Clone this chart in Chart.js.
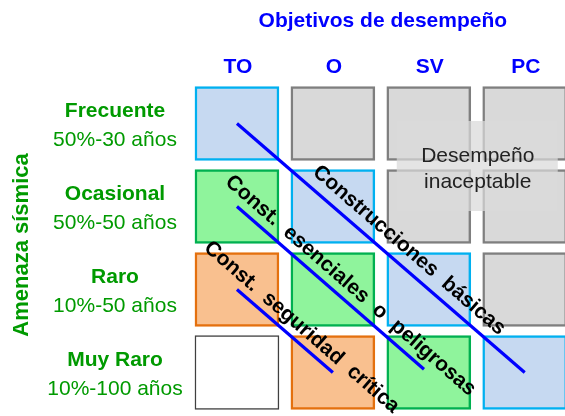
<!DOCTYPE html>
<html>
<head>
<meta charset="utf-8">
<script src="https://cdn.jsdelivr.net/npm/chart.js@4"></script>
<style>
  body { margin: 0; background: #fff; }
  #wrap { width: 565px; height: 416px; }
</style>
</head>
<body>
<div id="wrap"><canvas id="chart"></canvas></div>
<script>
// Performance objectives (columns) and seismic hazard levels (rows)
const columns = ["TO", "O", "SV", "PC"];
const rowTitles = ["Frecuente", "Ocasional", "Raro", "Muy Raro"];
const rowSubtitles = ["50%-30 años", "50%-50 años", "10%-50 años", "10%-100 años"];

// Kind of building each cell belongs to, row by row
const cellLevels = [
  ["basic", "unacceptable", "unacceptable", "unacceptable"],
  ["essential", "basic", "unacceptable", "unacceptable"],
  ["critical", "essential", "basic", "unacceptable"],
  ["none", "critical", "essential", "basic"]
];

// Diagonal lines: [column, row] of start and end
const lineNames = ["Construcciones\u00a0\u00a0básicas", "Const.\u00a0 esenciales\u00a0 o\u00a0 peligrosas", "Const.\u00a0 seguridad\u00a0 crítica"];
const lineStarts = [[0, 0], [0, 1], [0, 2]];
const lineEnds = [[3, 3], [1.95, 2.96], [1, 3]];

const unacceptableText = ["Desempeño", "inaceptable"];

const levelFill = {
  basic: "#C6D9F1", unacceptable: "#D9D9D9", essential: "#8FF49C",
  critical: "#F9C08F", none: "#FFFFFF"
};
const levelBorder = {
  basic: "#00B0F0", unacceptable: "#7F7F7F", essential: "#00B050",
  critical: "#E4700E", none: "#404040"
};

const FONT = "'Liberation Sans', Arial, sans-serif";
const GREEN = "#009A00";
const BLUE = "#0000FF";

// one floating bar per cell
const cellData = [], cellFill = [], cellBorder = [], cellBorderWidth = [];
cellLevels.forEach(function(row, r) {
  row.forEach(function(level, c) {
    cellData.push({ x: c, y: [r - 0.446, r + 0.446] });
    cellFill.push(levelFill[level]);
    cellBorder.push(levelBorder[level]);
    cellBorderWidth.push(level === "none" ? 1.5 : 2.5);
  });
});

const lineSets = lineNames.map(function(name, i) {
  return {
    type: "line",
    label: name,
    data: [{ x: lineStarts[i][0], y: lineStarts[i][1] }, { x: lineEnds[i][0], y: lineEnds[i][1] }],
    borderColor: BLUE,
    borderWidth: 3.2,
    pointRadius: 0,
    order: 0
  };
});

// where each diagonal label sits: fraction along the line, offset of baseline
const lineLabelPos = [
  { t: 0.56, off: 11 },
  { t: 0.555, off: 9 },
  { t: 0.58, off: 8 }
];

const labelsPlugin = {
  id: "matrixLabels",
  afterDatasetsDraw(chart) {
    const ctx = chart.ctx;
    const x = chart.scales.x, y = chart.scales.y;
    ctx.save();

    // translucent box over the unacceptable zone
    const bx = x.getPixelForValue(2.5), by = y.getPixelForValue(0.5) + 1;
    ctx.fillStyle = "rgba(217,217,217,0.72)";
    ctx.fillRect(bx - 80, by - 45, 161, 90);
    ctx.fillStyle = "#222";
    ctx.font = "21px " + FONT;
    ctx.textAlign = "center";
    ctx.textBaseline = "alphabetic";
    ctx.fillText(unacceptableText[0], bx + 1, by - 4);
    ctx.fillText(unacceptableText[1], bx + 1, by + 22);

    // labels along the diagonals
    ctx.fillStyle = "#000";
    ctx.font = "bold 21px " + FONT;
    lineNames.forEach(function(name, i) {
      const x0 = x.getPixelForValue(lineStarts[i][0]), y0 = y.getPixelForValue(lineStarts[i][1]);
      const x1 = x.getPixelForValue(lineEnds[i][0]), y1 = y.getPixelForValue(lineEnds[i][1]);
      const ang = Math.atan2(y1 - y0, x1 - x0);
      const p = lineLabelPos[i];
      ctx.save();
      ctx.translate(x0 + (x1 - x0) * p.t, y0 + (y1 - y0) * p.t);
      ctx.rotate(ang);
      ctx.fillText(name, 0, -p.off);
      ctx.restore();
    });

    // column headers and title
    ctx.fillStyle = BLUE;
    ctx.font = "bold 21px " + FONT;
    columns.forEach(function(col, c) {
      ctx.fillText(col, x.getPixelForValue(c) + 1, y.getPixelForValue(0) - 51);
    });
    ctx.fillText("Objetivos de desempeño", x.getPixelForValue(1.5) + 2, 27);

    // row labels
    ctx.fillStyle = GREEN;
    rowTitles.forEach(function(t, r) {
      const py = y.getPixelForValue(r);
      ctx.font = "bold 21px " + FONT;
      ctx.fillText(t, 115, py - 7);
      ctx.font = "21px " + FONT;
      ctx.fillText(rowSubtitles[r], 115, py + 22);
    });

    // vertical axis title
    ctx.save();
    ctx.translate(28, 245);
    ctx.rotate(-Math.PI / 2);
    ctx.font = "bold 22px " + FONT;
    ctx.fillText("Amenaza sísmica", 0, 0);
    ctx.restore();

    ctx.restore();
  }
};

new Chart(document.getElementById("chart"), {
  type: "bar",
  data: {
    datasets: [{
      type: "bar",
      label: "cells",
      data: cellData,
      backgroundColor: cellFill,
      borderColor: cellBorder,
      borderWidth: cellBorderWidth,
      borderSkipped: false,
      barThickness: 84,
      grouped: false,
      order: 1
    }].concat(lineSets)
  },
  options: {
    responsive: true,
    maintainAspectRatio: false,
    animation: false,
    layout: { padding: { left: 189, right: 0, top: 82, bottom: 2 } },
    plugins: { legend: { display: false }, tooltip: { enabled: false } },
    scales: {
      x: { type: "linear", min: -0.5, max: 3.42, offset: false, display: false },
      y: { type: "linear", min: -0.5, max: 3.5, reverse: true, display: false }
    }
  },
  plugins: [labelsPlugin]
});
</script>
</body>
</html>
